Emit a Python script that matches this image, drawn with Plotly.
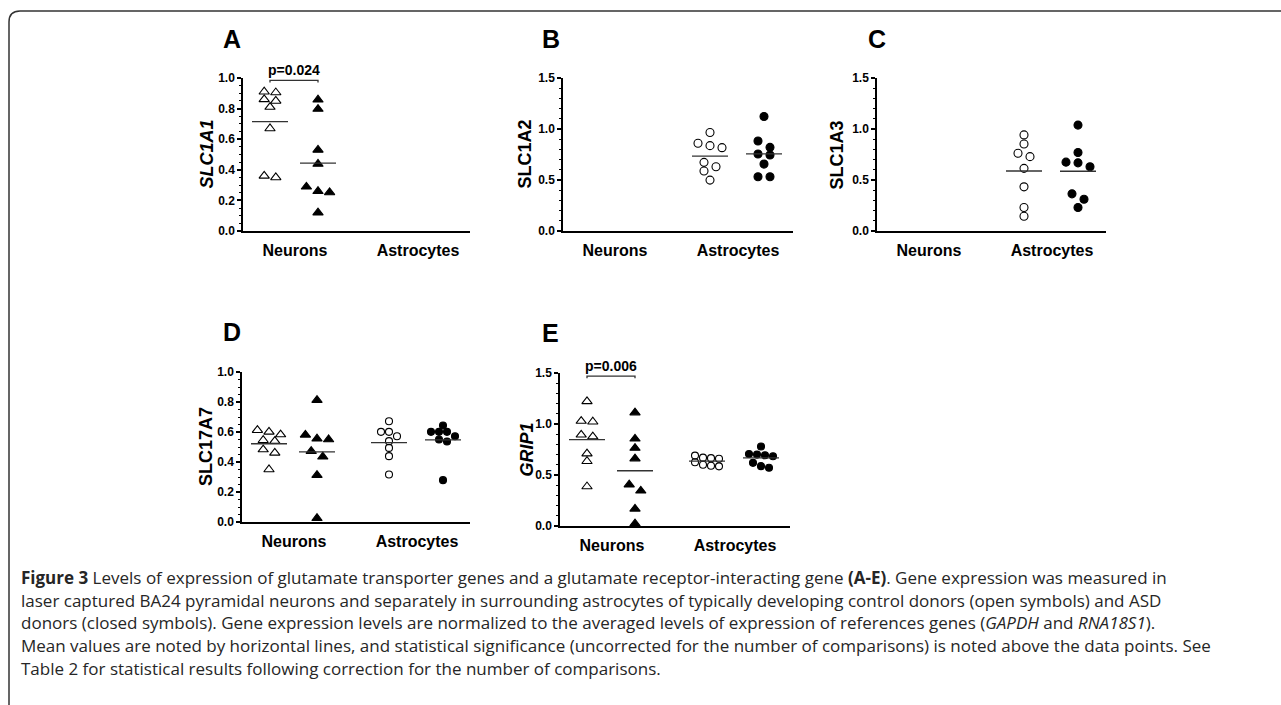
import numpy as np
import plotly.graph_objects as go

W, H = 1281, 705

# ---------------- data ----------------
CATEGORIES = ["Neurons", "Astrocytes"]

A_neu_ctrl = [0.91, 0.905, 0.86, 0.85, 0.81, 0.67, 0.36, 0.35]
A_neu_asd = [0.858, 0.797, 0.53, 0.438, 0.289, 0.26, 0.252, 0.12]

B_ast_ctrl = [0.965, 0.86, 0.837, 0.817, 0.673, 0.63, 0.588, 0.499]
B_ast_asd = [1.123, 0.883, 0.82, 0.755, 0.745, 0.656, 0.532, 0.532]

C_ast_ctrl = [0.942, 0.853, 0.762, 0.729, 0.614, 0.433, 0.23, 0.144]
C_ast_asd = [1.038, 0.77, 0.675, 0.668, 0.629, 0.364, 0.311, 0.23]

D_neu_ctrl = [0.612, 0.601, 0.583, 0.545, 0.539, 0.483, 0.461, 0.35]
D_neu_asd = [0.812, 0.581, 0.555, 0.55, 0.472, 0.435, 0.312, 0.025]
D_ast_ctrl = [0.672, 0.601, 0.601, 0.572, 0.539, 0.494, 0.439, 0.317]
D_ast_asd = [0.643, 0.601, 0.601, 0.601, 0.572, 0.55, 0.537, 0.279]

E_neu_ctrl = [1.222, 1.029, 1.022, 0.894, 0.877, 0.71, 0.635, 0.387]
E_neu_asd = [1.112, 0.855, 0.764, 0.661, 0.405, 0.345, 0.168, 0.023]
E_ast_ctrl = [0.69, 0.67, 0.665, 0.66, 0.625, 0.6, 0.59, 0.585]
E_ast_asd = [0.78, 0.706, 0.70, 0.693, 0.684, 0.619, 0.587, 0.571]

P_A = "p=0.024"
P_E = "p=0.006"

Y_TITLES = {"A": "SLC1A1", "B": "SLC1A2", "C": "SLC1A3", "D": "SLC17A7", "E": "GRIP1"}

CAPTION = [
    "<b>Figure 3</b> Levels of expression of glutamate transporter genes and a glutamate receptor-interacting gene <b>(A-E)</b>. Gene expression was measured in",
    "laser captured BA24 pyramidal neurons and separately in surrounding astrocytes of typically developing control donors (open symbols) and ASD",
    "donors (closed symbols). Gene expression levels are normalized to the averaged levels of expression of references genes (<i>GAPDH</i> and <i>RNA18S1</i>).",
    "Mean values are noted by horizontal lines, and statistical significance (uncorrected for the number of comparisons) is noted above the data points. See",
    "Table 2 for statistical results following correction for the number of comparisons.",
]

# ---------------- layout constants ----------------
SLOTS = [27, 75, 147, 201]       # horizontal slot centres (px inside panel)
CAT_POS = [52, 175]
FONT = "Liberation Sans, Arial, sans-serif"

TRI_O = dict(symbol="triangle-up-open", size=9, kind="tri")
TRI_F = dict(symbol="triangle-up", size=9, kind="tri")
CIR_O = dict(symbol="circle-open", size=8, kind="cir")
CIR_F = dict(symbol="circle", size=8, kind="cir")
CIR_OS = dict(symbol="circle-open", size=7, kind="cirs")
CIR_FS = dict(symbol="circle", size=7, kind="cirs")

# (spacing between neighbours in a row, minimum distance, row threshold) in px
SWARM = {"tri": (11.6, 7.0, 6.5), "cir": (12.0, 7.5, 7.0), "cirs": (8.0, 5.0, 5.0)}

panels = [
    dict(key="A", x0=243, x1=470, ytop=78, ybot=231, ymax=1.0, dtick=0.2, minor=0.05,
         italic=True, tx=206, letter=(232, 39),
         series=[(A_neu_ctrl, 0, TRI_O), (A_neu_asd, 1, TRI_F)],
         sig=(P_A, 0, 1, 0.985)),
    dict(key="B", x0=563, x1=793, ytop=78, ybot=231, ymax=1.5, dtick=0.5, minor=0.1,
         italic=False, tx=524, letter=(551, 39),
         series=[(B_ast_ctrl, 2, CIR_O), (B_ast_asd, 3, CIR_F)], sig=None),
    dict(key="C", x0=877, x1=1106, ytop=78, ybot=231, ymax=1.5, dtick=0.5, minor=0.1,
         italic=False, tx=836, letter=(877, 39),
         series=[(C_ast_ctrl, 2, CIR_O), (C_ast_asd, 3, CIR_F)], sig=None),
    dict(key="D", x0=242, x1=470, ytop=372, ybot=522, ymax=1.0, dtick=0.2, minor=0.05,
         italic=False, tx=206, letter=(232, 332),
         series=[(D_neu_ctrl, 0, TRI_O), (D_neu_asd, 1, TRI_F),
                 (D_ast_ctrl, 2, CIR_OS), (D_ast_asd, 3, CIR_FS)], sig=None),
    dict(key="E", x0=560, x1=790, ytop=373, ybot=526, ymax=1.5, dtick=0.5, minor=0.1,
         italic=True, tx=526, letter=(550, 333),
         series=[(E_neu_ctrl, 0, TRI_O), (E_neu_asd, 1, TRI_F),
                 (E_ast_ctrl, 2, CIR_OS), (E_ast_asd, 3, CIR_FS)],
         sig=(P_E, 0, 1, 1.47)),
]


def px_x(v):
    return v / W


def px_y(v):
    return 1 - v / H


def swarm(values, yscale, spacing, dmin, row_thresh):
    """Row-based scatter layout (like column scatter plots): nearly equal
    values share a row and are spread symmetrically around the centre."""
    vals = np.asarray(values, dtype=float)
    order = list(np.argsort(-vals, kind="stable"))
    rows, cur = [], []
    for i in order:
        if cur and (vals[cur[0]] - vals[i]) * yscale > row_thresh:
            rows.append(cur)
            cur = []
        cur.append(i)
    if cur:
        rows.append(cur)
    h = spacing / 2
    offs = np.zeros(len(vals))
    placed = []
    for row in rows:
        n = len(row)
        best, best_score = None, -1
        for m in (1, 2, 3):
            for shift in (0, h, -h, 2 * h, -2 * h):
                cand = [(j - (n - 1) / 2) * spacing * m + shift for j in range(n)]
                score = min([np.hypot(cx - qx, vals[i] * yscale - qy)
                             for cx, i in zip(cand, row) for qx, qy in placed] + [1e9])
                if score >= dmin:
                    best, best_score = cand, score
                    break
                if score > best_score:
                    best, best_score = cand, score
            else:
                continue
            break
        for cx, i in zip(best, row):
            offs[i] = cx
            placed.append((cx, vals[i] * yscale))
    return offs


fig = go.Figure()
annotations, shapes = [], []
layout = {}

for k, p in enumerate(panels, start=1):
    xa = "x" if k == 1 else f"x{k}"
    ya = "y" if k == 1 else f"y{k}"
    width_px = p["x1"] - p["x0"]
    yscale = (p["ybot"] - p["ytop"]) / p["ymax"]

    for values, slot, mk in p["series"]:
        spacing, dmin, rth = SWARM[mk["kind"]]
        offs = swarm(values, yscale, spacing, dmin, rth)
        xs = SLOTS[slot] + offs
        fig.add_trace(go.Scatter(
            x=xs, y=values, mode="markers", xaxis=xa, yaxis=ya, cliponaxis=False,
            marker=dict(symbol=mk["symbol"], size=mk["size"], color="black",
                        line=dict(width=1.1, color="black")),
            showlegend=False, hoverinfo="y"))
        m = float(np.mean(values))
        fig.add_trace(go.Scatter(
            x=[SLOTS[slot] - 18, SLOTS[slot] + 18], y=[m, m], mode="lines",
            xaxis=xa, yaxis=ya, cliponaxis=False,
            line=dict(color="#333333", width=1.3), showlegend=False, hoverinfo="skip"))

    layout["xaxis" if k == 1 else f"xaxis{k}"] = dict(
        domain=[px_x(p["x0"]), px_x(p["x1"])], anchor=ya, range=[0, width_px],
        showline=True, linecolor="black", linewidth=1.5, showgrid=False, zeroline=False,
        tickvals=CAT_POS, ticktext=CATEGORIES, ticks="outside", ticklen=4,
        tickcolor="rgba(0,0,0,0)", fixedrange=True,
        tickfont=dict(family=FONT, size=16, color="black", weight="bold"))
    layout["yaxis" if k == 1 else f"yaxis{k}"] = dict(
        domain=[px_y(p["ybot"]), px_y(p["ytop"])], anchor=xa, range=[0, p["ymax"]],
        showline=True, linecolor="black", linewidth=1.5, showgrid=False, zeroline=False,
        tick0=0, dtick=p["dtick"], tickformat=".1f", ticks="outside", ticklen=4,
        tickwidth=1.5, tickcolor="black", fixedrange=True,
        minor=dict(ticks="outside", ticklen=2, tickwidth=1, tickcolor="black",
                   dtick=p["minor"], showgrid=False),
        tickfont=dict(family=FONT, size=12, color="black", weight="bold"))

    annotations.append(dict(
        x=px_x(p["letter"][0]), y=px_y(p["letter"][1]), xref="paper", yref="paper",
        text=f"<b>{p['key']}</b>", showarrow=False, xanchor="center", yanchor="middle",
        font=dict(family=FONT, size=25, color="black")))
    t = Y_TITLES[p["key"]]
    t = f"<b><i>{t}</i></b>" if p["italic"] else f"<b>{t}</b>"
    annotations.append(dict(
        x=px_x(p["tx"]), y=px_y((p["ytop"] + p["ybot"]) / 2), xref="paper", yref="paper",
        text=t, textangle=-90, showarrow=False, xanchor="center", yanchor="middle",
        font=dict(family=FONT, size=18, color="black")))
    if p["sig"]:
        label, s0, s1, yb = p["sig"]
        drop = p["ymax"] * 0.015
        shapes.append(dict(
            type="path", xref=xa, yref=ya,
            path=f"M {SLOTS[s0]},{yb - drop} L {SLOTS[s0]},{yb} L {SLOTS[s1]},{yb} L {SLOTS[s1]},{yb - drop}",
            line=dict(color="#333333", width=1.3)))
        annotations.append(dict(
            x=(SLOTS[s0] + SLOTS[s1]) / 2, y=yb, xref=xa, yref=ya, text=f"<b>{label}</b>",
            showarrow=False, xanchor="center", yanchor="bottom", yshift=0,
            font=dict(family=FONT, size=14, color="black")))

cap_y = [577, 600, 622, 645, 668]
for line, yy in zip(CAPTION, cap_y):
    annotations.append(dict(
        x=px_x(19), y=px_y(yy), xref="paper", yref="paper", text=line, showarrow=False,
        xanchor="left", yanchor="middle", align="left",
        font=dict(family="Open Sans, sans-serif", size=17, color="#262626")))

shapes.append(dict(
    type="path", xref="paper", yref="paper",
    path=(f"M {px_x(9)},{px_y(705)} L {px_x(9)},{px_y(22)} "
          f"Q {px_x(9)},{px_y(11)} {px_x(20)},{px_y(11)} L {px_x(1281)},{px_y(11)}"),
    line=dict(color="#333333", width=1.5)))

fig.update_layout(
    width=W, height=H, margin=dict(l=0, r=0, t=0, b=0, pad=0, autoexpand=False),
    paper_bgcolor="white", plot_bgcolor="white", showlegend=False,
    annotations=annotations, shapes=shapes, **layout)

fig.write_html("out.html", config={"displayModeBar": False},
               post_script="document.body.style.margin='0';document.body.style.overflow='hidden';")
